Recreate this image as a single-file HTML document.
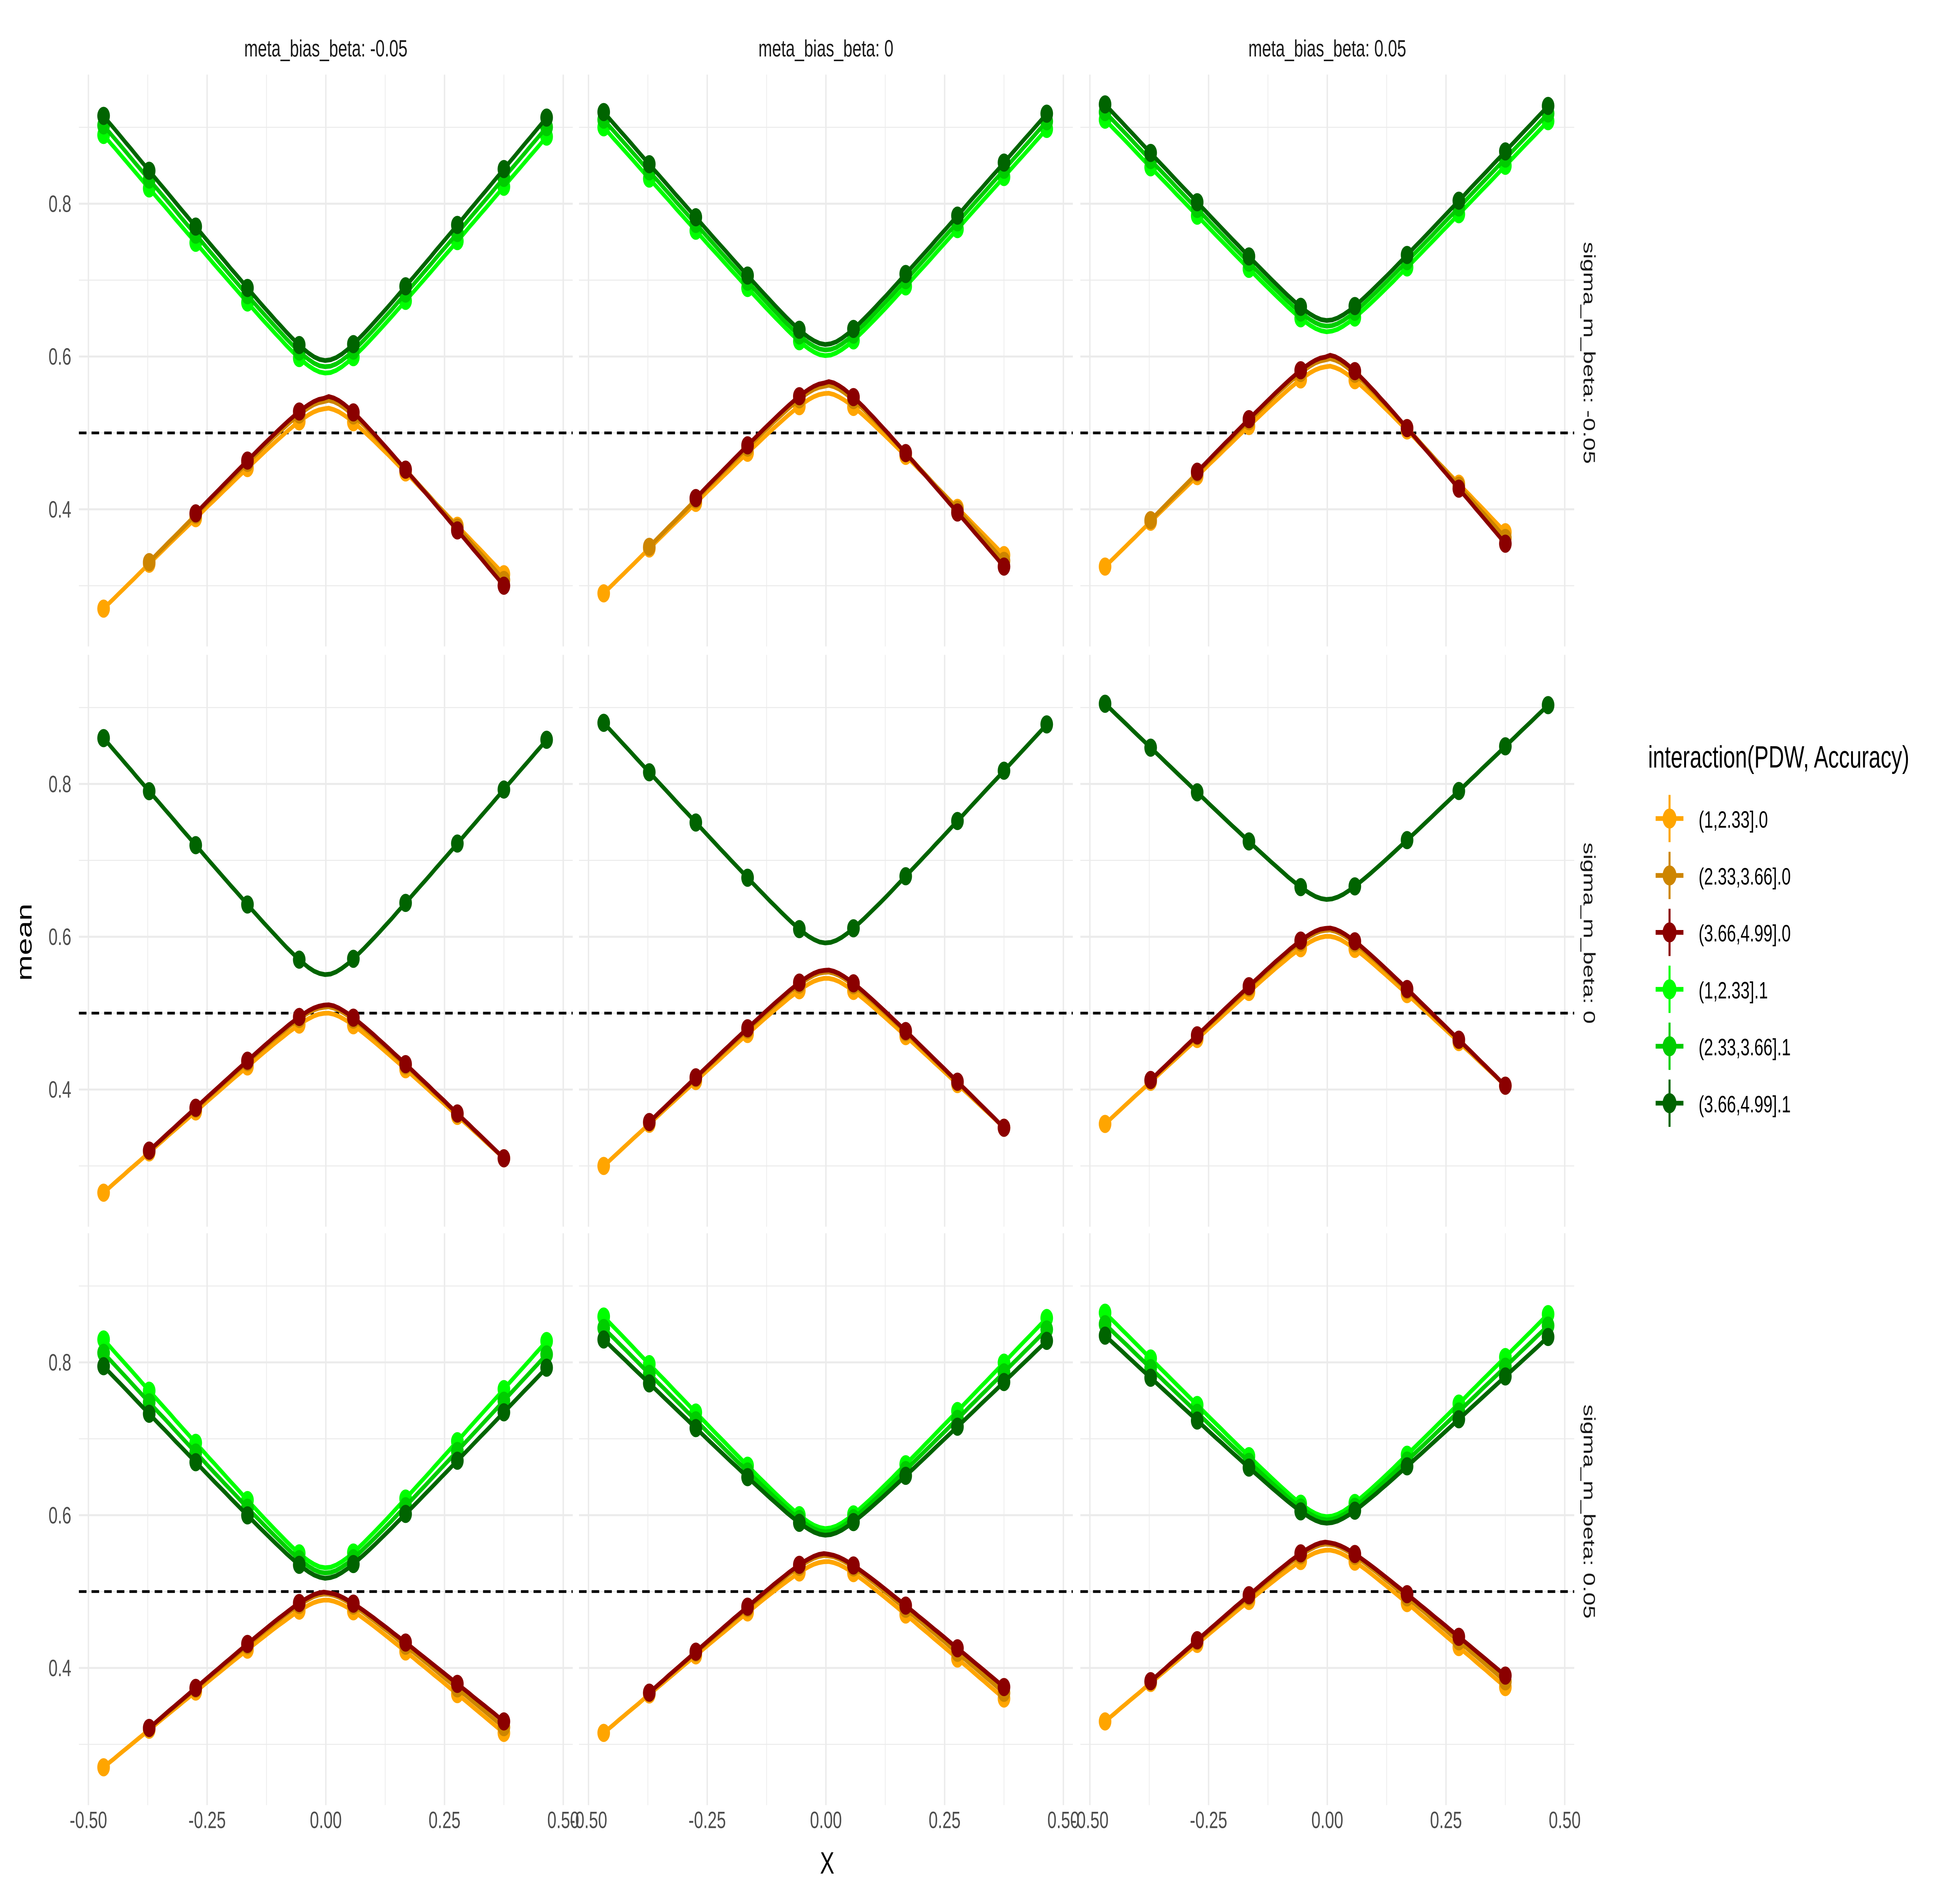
<!DOCTYPE html>
<html><head><meta charset="utf-8"><style>
html,body{margin:0;padding:0;background:#fff;width:100%;height:100%;overflow:hidden}
svg{display:block;position:absolute;left:0;top:0;width:100vw;height:100vh}
text{font-family:"Liberation Sans",sans-serif}
</style></head><body>
<svg id="s" viewBox="0 0 1552 1034.67" preserveAspectRatio="none" xmlns="http://www.w3.org/2000/svg"></svg>
<script>
const S=document.getElementById('s');let h='';
const cols=[{x0:258},{x0:654},{x0:1051}];
const rows=[{y5:238},{y5:557},{y5:875}];
const XS=376, YS=420;
const C={o:'#FFA500',b:'#CD8500',r:'#8B0000',l:'#00FF00',m:'#00CD00',d:'#006400'};
const xp=[-0.468,-0.372,-0.274,-0.165,-0.056,0.058,0.168,0.277,0.375,0.465];
const P=[
[[0.915,0.615,0.89,0.598,0.27,0.52,0.315,0.30,0.528],[0.92,0.635,0.90,0.62,0.29,0.54,0.34,0.325,0.548],[0.93,0.665,0.91,0.65,0.325,0.575,0.37,0.355,0.582]],
[[0.86,0.57,null,null,0.265,0.49,0.31,0.31,0.495],[0.88,0.61,null,null,0.30,0.535,0.35,0.35,0.54],[0.905,0.665,null,null,0.355,0.59,0.405,0.405,0.595]],
[[0.795,0.535,0.83,0.55,0.27,0.48,0.315,0.33,0.485],[0.83,0.59,0.86,0.60,0.315,0.53,0.36,0.375,0.535],[0.835,0.605,0.865,0.615,0.33,0.545,0.375,0.39,0.55]]];
const K=0.045, sa=a=>Math.sqrt(a*a+K*K), s0=sa(0.056);
function green(e,t,x){return t+(e-t)*(sa(x)-s0)/(sa(0.468)-s0);}
function orange(l,p,r,x){if(x<0)return p-(p-l)*(sa(x)-s0)/(sa(0.468)-s0);return p-(p-r)*(sa(x)-s0)/(sa(0.375)-s0);}
for(let ri=0;ri<3;ri++)for(let ci=0;ci<3;ci++){
 const x0=cols[ci].x0,y5=rows[ri].y5;
 const X=v=>x0+v*XS, Y=v=>y5-(v-0.5)*YS;
 const L=X(-0.52),R=X(0.52),T=Y(0.95)-8,B=Y(0.23)+4;
 for(let v=-0.5;v<=0.51;v+=0.125){const maj=Math.abs(v*4-Math.round(v*4))<1e-6;h+=`<line x1="${X(v)}" x2="${X(v)}" y1="${T}" y2="${B}" stroke="#ebebeb" stroke-width="${maj?1.1:0.55}"/>`;}
 for(let v=0.3;v<=0.91;v+=0.1){const maj=Math.round(v*10)%2==0;h+=`<line x1="${L}" x2="${R}" y1="${Y(v)}" y2="${Y(v)}" stroke="#ebebeb" stroke-width="${maj?1.1:0.55}"/>`;}
 h+=`<line x1="${L}" x2="${R}" y1="${Y(0.5)}" y2="${Y(0.5)}" stroke="#000" stroke-width="1.5" stroke-dasharray="6,4"/>`;
 const p=P[ri][ci];
 const series=[];
 const gx=[];for(let i=0;i<=80;i++)gx.push(-0.468+i*(0.933/80));
 const ox=[];for(let i=0;i<=80;i++)ox.push(-0.468+i*(0.843/80));
 if(p[2]!==null){
  series.push([C.l,v=>green(p[2],p[3],v),gx]);
  series.push([C.m,v=>green((p[0]+p[2])/2,(p[1]+p[3])/2,v),gx]);
 }
 series.push([C.d,v=>green(p[0],p[1],v),gx]);
 series.push([C.o,v=>orange(p[4],p[5]-0.005,p[6],v),ox]);
 series.push([C.b,v=>orange(p[4],(p[5]+p[8])/2,(p[6]+p[7])/2,v),ox.filter(v=>v>=-0.38)]);
 series.push([C.r,v=>orange(p[4],p[8],p[7],v),ox.filter(v=>v>=(ri==0?-0.28:-0.38))]);
 for(const [c,f,xs] of series){
  h+=`<polyline fill="none" stroke="${c}" stroke-width="2.6" points="${xs.map(v=>X(v).toFixed(1)+','+Y(f(v)).toFixed(1)).join(' ')}"/>`;
  const lo=xs[0]-0.01,hi=xs[xs.length-1]+0.01;
  for(const v of xp){if(v<lo||v>hi)continue;h+=`<circle cx="${X(v)}" cy="${Y(f(v))}" r="5" fill="${c}"/>`;}
 }
 if(ci==0){for(const v of [0.4,0.6,0.8])h+=`<text x="${L-6}" y="${Y(v)+4.5}" font-size="13" fill="#4d4d4d" text-anchor="end">${v.toFixed(1)}</text>`;}
 if(ri==2){for(const v of [-0.5,-0.25,0,0.25,0.5])h+=`<text x="${X(v)}" y="1005" font-size="13" fill="#4d4d4d" text-anchor="middle">${v.toFixed(2)}</text>`;}
}
const st=['meta_bias_beta: -0.05','meta_bias_beta: 0','meta_bias_beta: 0.05'];
st.forEach((t,i)=>h+=`<text x="${cols[i].x0}" y="31" font-size="13" fill="#1a1a1a" text-anchor="middle">${t}</text>`);
const rs=['sigma_m_beta: -0.05','sigma_m_beta: 0','sigma_m_beta: 0.05'];
rs.forEach((t,i)=>h+=`<text transform="translate(1254,${rows[i].y5-44}) rotate(90)" font-size="13" fill="#1a1a1a" text-anchor="middle">${t}</text>`);
h+=`<text x="655" y="1030" font-size="17" text-anchor="middle">X</text>`;
h+=`<text transform="translate(25,518) rotate(-90)" font-size="17" text-anchor="middle">mean</text>`;
h+=`<text x="1305" y="422" font-size="17">interaction(PDW, Accuracy)</text>`;
const lg=[['(1,2.33].0',C.o],['(2.33,3.66].0',C.b],['(3.66,4.99].0',C.r],['(1,2.33].1',C.l],['(2.33,3.66].1',C.m],['(3.66,4.99].1',C.d]];
lg.forEach(([t,c],i)=>{const y=450+i*31.3;h+=`<line x1="1311" x2="1333" y1="${y}" y2="${y}" stroke="${c}" stroke-width="2.6"/><line x1="1322" x2="1322" y1="${y-13}" y2="${y+13}" stroke="${c}" stroke-width="1.6"/><circle cx="1322" cy="${y}" r="5.5" fill="${c}"/><text x="1345" y="${y+5}" font-size="13">${t}</text>`;});
S.innerHTML=h;
</script>
</body></html>
